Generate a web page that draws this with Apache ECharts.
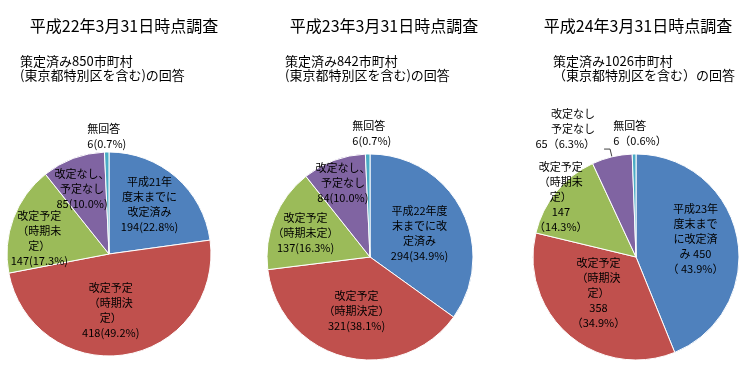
<!DOCTYPE html>
<html>
<head>
<meta charset="utf-8">
<script src="https://cdn.jsdelivr.net/npm/echarts@6/dist/echarts.min.js"></script>
<style>
html,body{margin:0;padding:0;background:#fff;}
#main{width:750px;height:378px;}
</style>
</head>
<body>
<div id="main"></div>
<script>
// ---- data ----
const titles = ["平成22年3月31日時点調査", "平成23年3月31日時点調査", "平成24年3月31日時点調査"];
const subtitles = [
  ["策定済み850市町村", "(東京都特別区を含む)の回答"],
  ["策定済み842市町村", "(東京都特別区を含む)の回答"],
  ["策定済み1026市町村", "（東京都特別区を含む）の回答"]
];
const categories = ["改定済み", "改定予定（時期決定）", "改定予定（時期未定）", "改定なし・予定なし", "無回答"];
const valuesH22 = [194, 418, 147, 85, 6];
const valuesH23 = [294, 321, 137, 84, 6];
const valuesH24 = [450, 358, 147, 65, 6];
const labelsH22 = [
  "平成21年\n度末までに\n改定済み\n{v}({p}%)",
  "改定予定\n（時期決\n定）\n{v}({p}%)",
  "改定予定\n（時期未\n定）\n{v}({p}%)",
  "改定なし、\n予定なし\n{v}({p}%)",
  "無回答\n{v}({p}%)"
];
const labelsH23 = [
  "平成22年度\n末までに改\n定済み\n{v}({p}%)",
  "改定予定\n（時期決定）\n{v}({p}%)",
  "改定予定\n（時期未定）\n{v}({p}%)",
  "改定なし、\n予定なし\n{v}({p}%)",
  "無回答\n{v}({p}%)"
];
const labelsH24 = [
  "平成23年\n度末まで\nに改定済\nみ {v}\n（ {p}%）",
  "改定予定\n（時期決\n定）\n{v}\n（{p}%）",
  "改定予定\n（時期未\n定）\n{v}\n（{p}%）",
  "改定なし\n予定なし\n{v}（{p}%）",
  "無回答\n{v}（{p}%）"
];
const colors = ["#4F81BD", "#C0504D", "#9BBB59", "#8064A2", "#4BACC6"];

// ---- layout ----
const FONT = "'Noto Sans CJK JP', sans-serif";
const pies = [
  {center: [109, 254], radius: 102, titleX: 124, subX: 20, values: valuesH22, labels: labelsH22,
   nudge: [[5, -9], [-7, 3], [-19, 3], [-8, -15], [-1, -64]]},
  {center: [370, 257], radius: 103, titleX: 384, subX: 285, values: valuesH23, labels: labelsH23,
   nudge: [[1, 1], [0, 1], [-14, -4], [-8, -23], [3, -69]]},
  {center: [636, 257], radius: 103, titleX: 638, subX: 553, values: valuesH24, labels: labelsH24,
   nudge: [[6, -8], [-2, -6], [-33, -26], [-4, -20], [5, -69]]}
];
const leftAlignedLast = 4; // 無回答 label lines are left aligned

function fmt(tpl, v, total) {
  return tpl.replace("{v}", v).replace("{p}", (v / total * 100).toFixed(1));
}

const richStyle = {color: "#000", fontSize: 11, lineHeight: 15, fontFamily: FONT};

const series = pies.map((p, si) => {
  const total = p.values.reduce((a, b) => a + b, 0);
  const outsideIdx = si === 2 ? 3 : -1;
  return {
    type: "pie",
    center: p.center,
    radius: p.radius,
    startAngle: 90,
    clockwise: true,
    avoidLabelOverlap: false,
    silent: true,
    animation: false,
    itemStyle: {borderColor: "#fff", borderWidth: 1},
    label: {
      show: true, position: "inside", color: "#000", fontSize: 11, lineHeight: 15,
      fontFamily: FONT, align: "center",
      rich: {l: Object.assign({align: "left"}, richStyle)},
      formatter: (params) => {
        const txt = fmt(p.labels[params.dataIndex], params.value, total);
        if (params.dataIndex === leftAlignedLast) {
          return txt.split("\n").map(s => "{l|" + s + "}").join("\n");
        }
        return txt;
      }
    },
    labelLine: {show: false},
    labelLayout: (params) => {
      const n = p.nudge[params.dataIndex];
      return {dx: n[0], dy: n[1]};
    },
    data: p.values.map((v, i) => {
      const d = {name: categories[i], value: v, itemStyle: {color: colors[i]}};
      if (i === outsideIdx) {
        d.label = {position: "outside", align: "center"};
        d.labelLine = {show: true, length: 8, length2: 6, lineStyle: {color: "#404040", width: 1}};
      }
      return d;
    })
  };
});

const graphics = [];
pies.forEach((p, i) => {
  graphics.push({type: "text", x: p.titleX, y: 26, style: {text: titles[i], fill: "#000", font: "16px " + FONT, textAlign: "center", textVerticalAlign: "middle"}});
  graphics.push({type: "text", x: p.subX, y: 61, style: {text: subtitles[i][0], fill: "#000", font: "13px " + FONT, textAlign: "left", textVerticalAlign: "middle"}});
  graphics.push({type: "text", x: p.subX, y: 75, style: {text: subtitles[i][1], fill: "#000", font: "13px " + FONT, textAlign: "left", textVerticalAlign: "middle"}});
});

const chart = echarts.init(document.getElementById("main"), null, {renderer: "canvas"});
chart.setOption({
  animation: false,
  backgroundColor: "#fff",
  graphic: graphics,
  series: series
});
</script>
</body>
</html>
